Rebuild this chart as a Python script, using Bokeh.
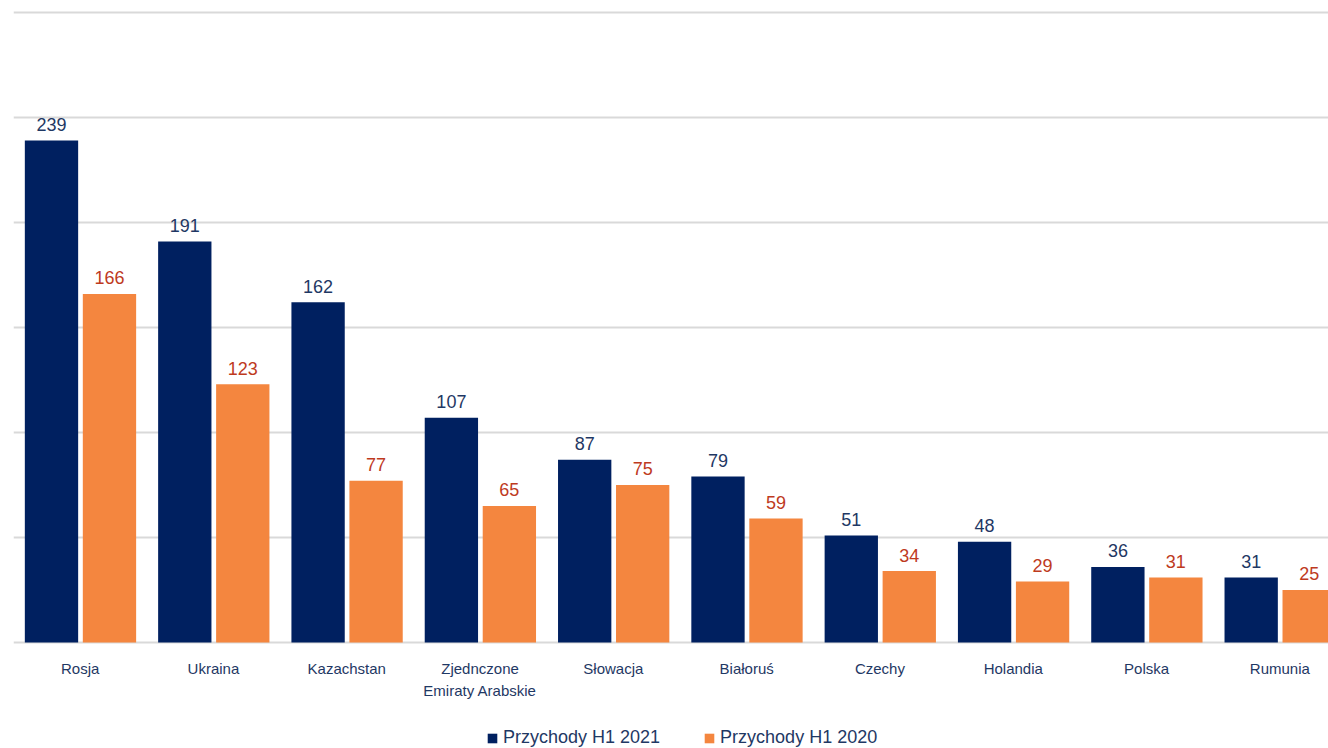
from bokeh.plotting import figure
from bokeh.models import Range1d, FixedTicker, ColumnDataSource, Legend, LegendItem
from bokeh.embed import file_html
from bokeh.resources import INLINE
from bokeh.core.properties import value

countries = ["Rosja", "Ukraina", "Kazachstan", "Zjednczone\nEmiraty Arabskie", "Słowacja",
             "Białoruś", "Czechy", "Holandia", "Polska", "Rumunia"]
rev_2021 = [239, 191, 162, 107, 87, 79, 51, 48, 36, 31]
rev_2020 = [166, 123, 77, 65, 75, 59, 34, 29, 31, 25]
series_names = ["Przychody H1 2021", "Przychody H1 2020"]
grid_values = [0, 50, 100, 150, 200, 250, 300]

NAVY = "#002060"
ORANGE = "#F4863F"
NAVY_TXT = "#1F3864"
RED_TXT = "#BE3A1E"
FONT = "Liberation Sans"

pos = [i + 0.5 for i in range(len(countries))]
src = ColumnDataSource(dict(
    x1=[p - 0.215 for p in pos], x2=[p + 0.22 for p in pos],
    v1=rev_2021, v2=rev_2020,
    t1=[str(v) for v in rev_2021], t2=[str(v) for v in rev_2020],
))
cat_src = ColumnDataSource(dict(x=pos, y=[0] * len(pos), label=countries))

# frame spans y=8..748 at 2.1 px per unit: 0 sits at y=642, 300 at y=12
p = figure(frame_width=1315, frame_height=740, output_backend="svg", toolbar_location=None,
           x_range=Range1d(0, 9.865), y_range=Range1d(-50.48, 301.9),
           min_border_left=13, min_border_right=0, min_border_top=8, min_border_bottom=0)
p.outline_line_color = None
p.xgrid.visible = False
p.ygrid.ticker = FixedTicker(ticks=grid_values)
p.ygrid.grid_line_color = "#d9d9d9"
p.ygrid.grid_line_width = 2
p.xaxis.visible = False
p.yaxis.visible = False

r1 = p.vbar(x="x1", top="v1", width=0.40, source=src, fill_color=NAVY, line_color=None)
r2 = p.vbar(x="x2", top="v2", width=0.40, source=src, fill_color=ORANGE, line_color=None)

p.text(x="x1", y="v1", text="t1", source=src, text_align="center", text_baseline="alphabetic",
       y_offset=-16, text_font=value(FONT), text_font_size="18px", text_color=NAVY_TXT)
p.text(x="x2", y="v2", text="t2", source=src, text_align="center", text_baseline="alphabetic",
       y_offset=-16, text_font=value(FONT), text_font_size="18px", text_color=RED_TXT)

# category labels under the baseline
p.text(x="x", y="y", text="label", source=cat_src, text_align="center", text_baseline="top",
       y_offset=18, text_font=value(FONT), text_font_size="15px", text_color=NAVY_TXT,
       text_line_height=1.28)

legend = Legend(items=[LegendItem(label=series_names[0], renderers=[r1]),
                       LegendItem(label=series_names[1], renderers=[r2])],
                orientation="horizontal", location=(473, 0))
legend.label_text_font = FONT
legend.label_text_font_size = "18px"
legend.label_text_color = NAVY_TXT
legend.glyph_width = 12
legend.glyph_height = 12
legend.label_standoff = 5
legend.spacing = 43
legend.border_line_color = None
legend.background_fill_alpha = 0
legend.padding = 0
legend.margin = 0
p.add_layout(legend)

open("out.html", "w").write(file_html(p, INLINE))
